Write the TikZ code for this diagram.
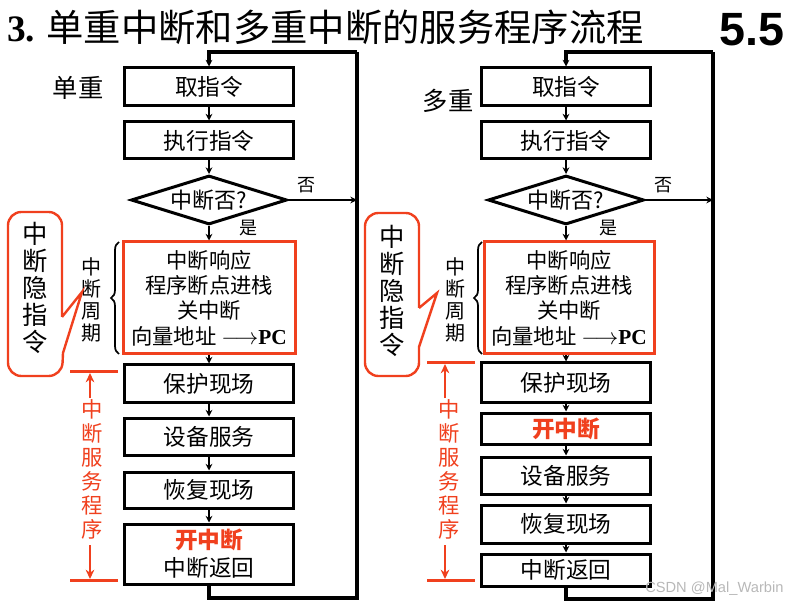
\documentclass[tikz,border=0pt]{standalone}
\usepackage{fontspec}
\setmainfont{Noto Sans CJK SC}
\newfontfamily\serifbf{Liberation Serif}
\newfontfamily\arialf{Liberation Sans}
\usetikzlibrary{arrows.meta,shapes.geometric,decorations.pathreplacing}
\definecolor{accent}{HTML}{F0401E}
\begin{document}
\begin{tikzpicture}[x=0.75pt,y=-0.75pt,
  box/.style={draw, line width=2.25pt, minimum width=126.75pt, inner sep=0pt, align=center, font=\fontsize{17}{21}\selectfont},
  redbox/.style={draw=accent, line width=2.25pt, minimum height=84pt, inner sep=0pt, align=center, font=\fontsize{16}{19}\selectfont},
  decision/.style={draw, diamond, line width=2.25pt, minimum width=117pt, minimum height=36.75pt, inner sep=0pt, aspect=3, font=\fontsize{16.5}{19}\selectfont},
  conn/.style={line width=1.8pt, -{Stealth[length=5pt,width=5pt]}},
  loopline/.style={line width=2.5pt},
  yn/.style={font=\fontsize{13.5}{15}\selectfont},
  side/.style={font=\fontsize{19}{22}\selectfont},
  cycletext/.style={align=center, inner sep=0pt, font=\fontsize{15}{16.5}\selectfont},
  hidtext/.style={align=center, inner sep=0pt, font=\fontsize{19}{20.4}\selectfont},
  servtext/.style={align=center, inner sep=0pt, text=accent, font=\fontsize{16}{18}\selectfont},
  callout/.style={draw=accent, line width=1.8pt},
  redline/.style={draw=accent, line width=2.25pt},
  redarr/.style={draw=accent, line width=2pt, -{Stealth[length=7pt,width=6.5pt]}},
  brc/.style={decorate, decoration={brace, amplitude=6pt}, line width=1.3pt}
]
\useasboundingbox (0,0) rectangle (802,605);

% title
\node[anchor=west, inner sep=0pt, font=\fontsize{28}{32}\selectfont] (title) at (7,27) {{\serifbf\bfseries 3.} 单重中断和多重中断的服务程序流程};
\node[inner sep=0pt, font=\arialf\bfseries\fontsize{35}{40}\selectfont] (sec) at (752,30) {5.5};

% ================= left column (single) =================
\node[side] (lsingle) at (78,88) {单重};
\node[box, minimum height=28.5pt] (L1) at (209,87) {取指令};
\node[box, minimum height=27.75pt] (L2) at (209,140.5) {执行指令};
\node[decision] (LD) at (209,200) {中断否?};
\node[redbox, minimum width=129pt] (LR) at (209,298) {中断响应\\程序断点进栈\\关中断\\向量地址 $\longrightarrow${\serifbf\bfseries PC}};
\node[box, minimum height=27.75pt] (L3) at (209,383.5) {保护现场};
\node[box, minimum height=27.75pt] (L4) at (209,436.5) {设备服务};
\node[box, minimum height=27pt] (L5) at (209,490) {恢复现场};
\node[box, minimum height=45pt] (L6) at (209,554) {{\color{accent}\bfseries 开中断}\\中断返回};

\node[yn] (lno) at (306,185) {否};
\node[yn] (lyes) at (248,228) {是};

\draw[conn] (L1) -- (L2);
\draw[conn] (L2) -- (LD);
\draw[conn] (LD) -- (LR);
\draw[conn] (LR) -- (L3);
\draw[conn] (L3) -- (L4);
\draw[conn] (L4) -- (L5);
\draw[conn] (L5) -- (L6);

\coordinate (Lbr) at (357,598);
\coordinate (Ltr) at (357,52);
\draw[loopline] (L6.south) |- (Lbr) -- (Ltr);
\draw[loopline, -{Stealth[length=5pt,width=5pt]}] (Ltr) -| (L1.north);
\draw[conn] (LD.east) -- (LD.east -| Lbr);

\draw[brc] (119,354) -- (119,242);
\node[cycletext] (lcyc) at (91,300) {中\\断\\周\\期};
\draw[callout] (62,317) -- (82,292) -- (63,353) [rounded corners=10pt] -- (62,376) -- (8,376) -- (8,212) -- (62,212) -- (62,300) [sharp corners] -- (62,317);
\node[hidtext] (lhid) at (35,288) {中\\断\\隐\\指\\令};

\coordinate (LtopA) at (70,372);
\coordinate (LtopB) at (118,372);
\coordinate (LbotA) at (70,580);
\coordinate (LbotB) at (118,580);
\draw[redline] (LtopA) -- (LtopB);
\draw[redline] (LbotA) -- (LbotB);
\node[servtext] (lserv) at (92,469) {中\\断\\服\\务\\程\\序};
\coordinate (Lup) at (90,373);
\coordinate (Ldn) at (90,579);
\draw[redarr] (90,398) -- (Lup);
\draw[redarr] (90,545) -- (Ldn);

% ================= right column (multiple) =================
\node[side] (rmulti) at (448,101) {多重};
\node[box, minimum height=28.5pt] (R1) at (566,87) {取指令};
\node[box, minimum height=27.75pt] (R2) at (566,140.5) {执行指令};
\node[decision] (RD) at (566,200) {中断否?};
\node[redbox, minimum width=127.5pt] (RR) at (569,298) {中断响应\\程序断点进栈\\关中断\\向量地址 $\longrightarrow${\serifbf\bfseries PC}};
\node[box, minimum height=29.25pt] (R3) at (566,382.5) {保护现场};
\node[box, minimum height=23.25pt, text=accent] (R4) at (566,428.5) {\bfseries 开中断};
\node[box, minimum height=27.75pt] (R5) at (566,475.5) {设备服务};
\node[box, minimum height=28.5pt] (R6) at (566,524) {恢复现场};
\node[box, minimum height=24pt] (R7) at (566,570) {中断返回};

\node[yn] (rno) at (663,185) {否};
\node[yn] (ryes) at (608,228) {是};

\draw[conn] (R1) -- (R2);
\draw[conn] (R2) -- (RD);
\draw[conn] (RD.south) -- (RD.south |- RR.north);
\draw[conn] (RR.south -| R3) -- (R3);
\draw[conn] (R3) -- (R4);
\draw[conn] (R4) -- (R5);
\draw[conn] (R5) -- (R6);
\draw[conn] (R6) -- (R7);

\coordinate (Rbr) at (713,599);
\coordinate (Rtr) at (713,52);
\draw[loopline] (R7.south) |- (Rbr) -- (Rtr);
\draw[loopline, -{Stealth[length=5pt,width=5pt]}] (Rtr) -| (R1.north);
\draw[conn] (RD.east) -- (RD.east -| Rbr);

\draw[brc] (482,354) -- (482,242);
\node[cycletext] (rcyc) at (455,300) {中\\断\\周\\期};
\draw[callout] (419,308) -- (437,293) -- (419,347) [rounded corners=10pt] -- (419,376) -- (365,376) -- (365,213) -- (419,213) -- (419,290) [sharp corners] -- (419,308);
\node[hidtext] (rhid) at (392,291) {中\\断\\隐\\指\\令};

\coordinate (RtopA) at (427,363);
\coordinate (RtopB) at (475,363);
\coordinate (RbotA) at (427,580);
\coordinate (RbotB) at (475,580);
\draw[redline] (RtopA) -- (RtopB);
\draw[redline] (RbotA) -- (RbotB);
\node[servtext] (rserv) at (449,469) {中\\断\\服\\务\\程\\序};
\coordinate (Rup) at (445,364);
\coordinate (Rdn) at (445,579);
\draw[redarr] (445,398) -- (Rup);
\draw[redarr] (445,545) -- (Rdn);

% watermark
\node[anchor=west, inner sep=0pt, text=black!28, font=\arialf\fontsize{11}{13}\selectfont] (wm) at (645,589) {CSDN @Mal\_Warbin};
\end{tikzpicture}
\end{document}
